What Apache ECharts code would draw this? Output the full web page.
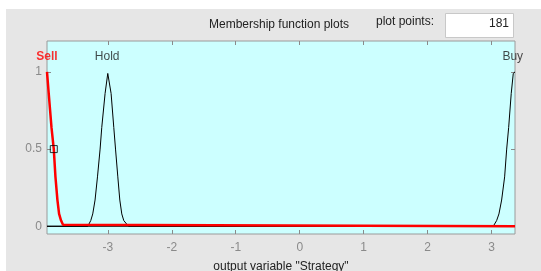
<!DOCTYPE html>
<html>
<head>
<meta charset="utf-8">
<script src="https://cdn.jsdelivr.net/npm/echarts@6/dist/echarts.min.js"></script>
<style>html,body{margin:0;padding:0;background:#fff;}#c{width:541px;height:271px;}</style>
</head>
<body>
<div id="c"></div>
<script>
// ---- data ----
const xTicks = [-3, -2, -1, 0, 1, 2, 3];
const yTicks = [0, 0.5, 1];
const mfNames = ['Sell', 'Hold', 'Buy'];
const mfLabelX = [-3.95, -3.01, 3.33];

const sellX = [-3.95, -3.923, -3.880, -3.844, -3.818, -3.787, -3.761, -3.730, -3.700, -3.673, 3.365];
const sellY = [1.0, 0.86, 0.64, 0.5, 0.32, 0.17, 0.08, 0.037, 0.01, 0, 0];

const holdX = [-3.95, -3.313, -3.266, -3.235, -3.199, -3.161, -3.120, -3.094, -3.042, -3.0, -2.948, -2.906, -2.879, -2.843, -2.812, -2.781, -2.750, -2.676, 3.365];
const holdY = [0, 0, 0.037, 0.08, 0.17, 0.32, 0.5, 0.64, 0.86, 0.99, 0.86, 0.64, 0.5, 0.32, 0.17, 0.08, 0.037, 0, 0];

const buyX = [-3.95, 3.025, 3.078, 3.114, 3.156, 3.203, 3.235, 3.266, 3.306, 3.338, 3.365];
const buyY = [0, 0, 0.037, 0.08, 0.17, 0.32, 0.5, 0.64, 0.86, 0.99, 1.0];

const sellMarker = [-3.844, 0.5];
const plotPoints = '181';

// ---- chart ----
const zip = (xs, ys) => xs.map((x, i) => [x, ys[i]]);
const FONT = '"Liberation Sans", Arial, sans-serif';
const tickColor = '#8a8a8a';
const chart = echarts.init(document.getElementById('c'), null, {renderer: 'canvas'});

const xMin = -3.95, xMax = 3.365, yMin = -0.05, yMax = 1.2;
const gridL = 47, gridT = 41, gridW = 468, gridH = 193;

const labelSeries = mfNames.map((n, i) => ({
  type: 'scatter', symbolSize: 0, silent: true, z: 5, clip: false,
  data: [[mfLabelX[i], 1.1]],
  label: {
    show: true, position: 'inside', formatter: n,
    fontFamily: FONT, fontSize: 12,
    color: i === 0 ? '#ff0000' : '#1a1a1a',
    fontWeight: i === 0 ? 'bold' : 'normal'
  }
}));

const tickStyle = {show: true, inside: true, length: 4, lineStyle: {color: tickColor}};

chart.setOption({
  animation: false,
  backgroundColor: '#ffffff',
  graphic: [
    {type: 'rect', z: -100, shape: {x: 6, y: 9, width: 535, height: 262}, style: {fill: '#e6e6e6'}},
    {type: 'text', x: 279, y: 25, style: {text: 'Membership function plots', fill: '#222', font: '12px ' + FONT, textAlign: 'center', textVerticalAlign: 'middle'}},
    {type: 'text', x: 405, y: 22, style: {text: 'plot points:', fill: '#222', font: '12px ' + FONT, textAlign: 'center', textVerticalAlign: 'middle'}},
    {type: 'rect', shape: {x: 445.5, y: 13.5, width: 68, height: 24}, style: {fill: '#ffffff', stroke: '#c8c8c8', lineWidth: 1}},
    {type: 'text', x: 509, y: 24, style: {text: plotPoints, fill: '#222', font: '12px ' + FONT, textAlign: 'right', textVerticalAlign: 'middle'}}
  ],
  grid: {
    left: gridL, top: gridT, width: gridW, height: gridH,
    outerBoundsMode: 'none', containLabel: false,
    show: true, backgroundColor: '#ccffff', borderColor: '#9a9a9a', borderWidth: 1
  },
  xAxis: [
    {
      type: 'value', min: xMin, max: xMax, position: 'bottom',
      axisLine: {show: false, onZero: false},
      axisTick: Object.assign({customValues: xTicks}, tickStyle),
      axisLabel: {show: true, color: tickColor, fontFamily: FONT, fontSize: 12, margin: 8, customValues: xTicks},
      splitLine: {show: false},
      name: 'output variable "Strategy"', nameLocation: 'middle', nameGap: 27,
      nameTextStyle: {color: '#222', fontFamily: FONT, fontSize: 12}
    },
    {
      type: 'value', min: xMin, max: xMax, position: 'top',
      axisLine: {show: false, onZero: false},
      axisTick: Object.assign({customValues: xTicks}, tickStyle),
      axisLabel: {show: false, customValues: xTicks},
      splitLine: {show: false}
    }
  ],
  yAxis: [
    {
      type: 'value', min: yMin, max: yMax, position: 'left',
      axisLine: {show: false, onZero: false},
      axisTick: Object.assign({customValues: yTicks}, tickStyle),
      axisLabel: {show: true, color: tickColor, fontFamily: FONT, fontSize: 12, margin: 5, customValues: yTicks},
      splitLine: {show: false}
    },
    {
      type: 'value', min: yMin, max: yMax, position: 'right',
      axisLine: {show: false, onZero: false},
      axisTick: Object.assign({customValues: yTicks}, tickStyle),
      axisLabel: {show: false, customValues: yTicks},
      splitLine: {show: false}
    }
  ],
  series: [
    {type: 'line', data: zip(holdX, holdY), symbol: 'none', lineStyle: {color: '#000', width: 1}, z: 2},
    {type: 'line', data: zip(buyX, buyY), symbol: 'none', lineStyle: {color: '#000', width: 1}, z: 2},
    {type: 'line', data: zip(sellX, sellY), symbol: 'none', lineStyle: {color: '#ff0000', width: 2.5}, z: 3},
    {type: 'scatter', data: [sellMarker], symbol: 'rect', symbolSize: 7,
     itemStyle: {color: 'rgba(0,0,0,0)', borderColor: '#000', borderWidth: 1}, z: 4},
    ...labelSeries
  ]
});
</script>
</body>
</html>
